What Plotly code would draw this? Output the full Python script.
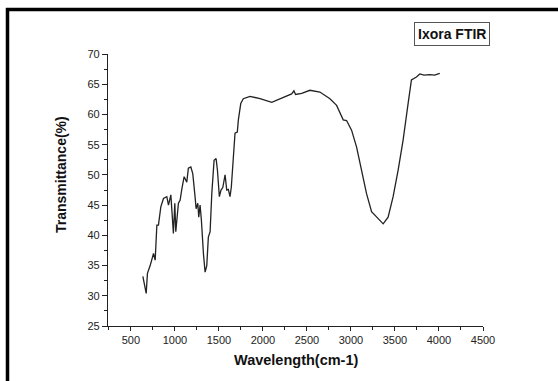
import plotly.graph_objects as go

# Spectrum data
wavenumber = [636, 654, 674, 688, 719, 757, 776, 795, 813, 840, 870, 908, 927, 954,
              983, 999, 1010, 1040, 1059, 1079, 1105, 1135, 1153, 1181, 1203, 1229,
              1241, 1260, 1271, 1286, 1301, 1324, 1343, 1362, 1380, 1400, 1419, 1445,
              1468, 1483, 1505, 1524, 1544, 1570, 1589, 1607, 1626, 1641, 1657, 1675,
              1683, 1709, 1721, 1748, 1777, 1853, 1967, 2100, 2250, 2326, 2352, 2371,
              2440, 2534, 2647, 2761, 2837, 2874, 2912, 2950, 3007, 3064, 3121, 3177,
              3234, 3309, 3366, 3422, 3479, 3536, 3592, 3649, 3687, 3744, 3782, 3830,
              3895, 3950, 4009]
transmittance = [33.2, 32.0, 30.4, 33.7, 35.0, 37.0, 35.9, 41.7, 41.7, 44.7, 46.1, 46.4,
                 45.0, 46.7, 40.3, 45.3, 40.6, 45.3, 45.8, 47.7, 49.7, 48.8, 51.1, 51.3,
                 50.2, 46.4, 44.4, 45.3, 43.0, 45.0, 42.5, 37.0, 33.9, 35.0, 39.7, 40.6,
                 46.9, 52.4, 52.7, 50.8, 46.4, 47.5, 47.9, 50.0, 47.5, 47.6, 46.4, 48.0,
                 51.3, 54.1, 56.9, 57.1, 59.1, 61.8, 62.6, 63.0, 62.6, 62.0, 63.0, 63.4,
                 63.9, 63.3, 63.5, 64.0, 63.7, 62.6, 61.5, 60.4, 59.1, 59.0, 57.4, 54.6,
                 50.8, 46.9, 43.9, 42.7, 41.9, 43.0, 46.4, 50.8, 55.7, 61.8, 65.7, 66.2,
                 66.7, 66.5, 66.6, 66.5, 66.8]

x_tick_vals = [500, 1000, 1500, 2000, 2500, 3000, 3500, 4000, 4500]
y_tick_vals = [25, 30, 35, 40, 45, 50, 55, 60, 65, 70]

W, H = 558, 381
L, R, T, B = 108, 75, 54, 55
PW, PH = W - L - R, H - T - B

def px(x):
    return (x - L) / PW

def py(y):
    return (H - B - y) / PH

FONT = "Liberation Sans, Arial, sans-serif"

fig = go.Figure()
fig.add_trace(go.Scatter(x=wavenumber, y=transmittance, mode="lines",
                         line=dict(color="#222222", width=1.3), showlegend=False))

fig.update_layout(
    width=W, height=H,
    margin=dict(l=L, r=R, t=T, b=B),
    paper_bgcolor="white", plot_bgcolor="white",
    font=dict(family=FONT, size=11, color="#222222"),
    xaxis=dict(range=[240, 4500], tickvals=x_tick_vals, showgrid=False, zeroline=False,
               showline=True, linecolor="#222222", linewidth=1.2,
               ticks="outside", ticklen=4, tickwidth=1, tickcolor="#222222",
               minor=dict(ticks="outside", ticklen=3, dtick=250, tick0=0, tickcolor="#222222"),
               tickfont=dict(size=11, family=FONT)),
    yaxis=dict(range=[25, 70], tickvals=y_tick_vals, showgrid=False, zeroline=False,
               showline=True, linecolor="#222222", linewidth=1.2,
               ticks="outside", ticklen=5, tickwidth=1, tickcolor="#222222",
               minor=dict(ticks="outside", ticklen=3, dtick=2.5, tick0=0, tickcolor="#222222"),
               tickfont=dict(size=11, family=FONT)),
    shapes=[
        dict(type="line", xref="paper", yref="paper", x0=px(6), x1=px(558), y0=py(9.5), y1=py(9.5),
             line=dict(color="black", width=3.5)),
        dict(type="line", xref="paper", yref="paper", x0=px(7.5), x1=px(7.5), y0=py(8), y1=py(381),
             line=dict(color="black", width=3.5)),
    ],
    annotations=[
        dict(text="<b>Ixora FTIR</b>", xref="paper", yref="paper", x=px(452), y=py(34.5),
             xanchor="center", yanchor="middle",
             showarrow=False, font=dict(size=14, family=FONT, color="#111111"),
             bordercolor="#555555", borderwidth=1, borderpad=3, bgcolor="white"),
        dict(text="<b>Wavelength(cm-1)</b>", xref="paper", yref="paper", x=px(296), y=py(360),
             xanchor="center", yanchor="middle",
             showarrow=False, font=dict(size=14.5, family=FONT, color="#111111")),
        dict(text="<b>Transmittance(%)</b>", xref="paper", yref="paper", x=px(61), y=py(175),
             xanchor="center", yanchor="middle",
             showarrow=False, textangle=-90, font=dict(size=14, family=FONT, color="#111111")),
    ],
)

fig.write_html("out.html", config={"displayModeBar": False},
               post_script="document.body.style.margin='0';document.body.style.overflow='hidden';")
